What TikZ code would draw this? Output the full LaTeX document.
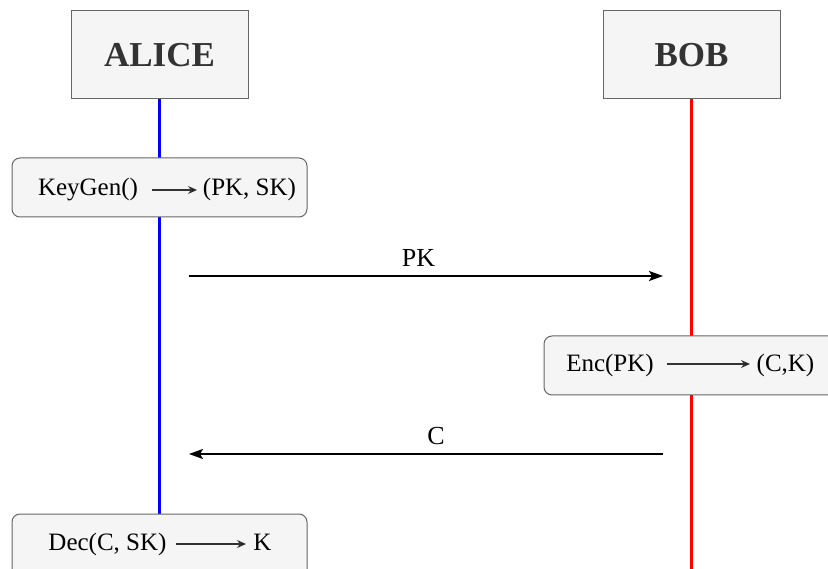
\documentclass[tikz,border=0pt]{standalone}
\usepackage{fontspec}
\setmainfont{Liberation Serif}
\usetikzlibrary{arrows.meta}
\definecolor{boxfill}{HTML}{F5F5F5}
\definecolor{boxline}{HTML}{666666}
\definecolor{headtext}{HTML}{333333}
\tikzset{
  actor/.style={draw=boxline, line width=1pt, fill=boxfill, minimum width=177pt,
    minimum height=88pt, inner sep=0pt, text=headtext,
    font=\fontsize{35}{40}\selectfont\bfseries},
  stepbox/.style={draw=boxline, line width=1pt, fill=boxfill, rounded corners=8pt},
  boxtext/.style={anchor=base, inner sep=0pt, font=\fontsize{25}{30}\selectfont},
  msglabel/.style={anchor=base, inner sep=0pt, font=\fontsize{26}{30}\selectfont},
  inarrow/.style={draw=black!80, line width=1.2pt, -{Stealth[length=9pt,width=8pt,fill=black]}},
  message/.style={line width=2pt, -{Stealth[length=14pt,width=10pt,inset=3pt]}},
  lifeline/.style={line width=3pt}
}
\begin{document}
\begin{tikzpicture}[x=1pt,y=-1pt]
\useasboundingbox (0,0) rectangle (828,569);

% participants
\node[actor] (alice) at (159.5,55) {ALICE};
\node[actor] (bob) at (691.5,55) {BOB};

% lifelines
\coordinate (aliceend) at (159.5,514);
\coordinate (bobend) at (691.5,575);
\draw[lifeline, blue] (alice.south) -- (aliceend);
\draw[lifeline, red] (bob.south) -- (bobend);

% Alice: key generation
\node[stepbox, minimum width=295pt, minimum height=59pt] (kgbox) at (159.5,187.5) {};
\node[boxtext] (kg) at (88,196) {KeyGen()};
\node[boxtext] (pksk) at (249.5,196) {(PK, SK)};
\coordinate (kga) at (152,190);
\coordinate (kgb) at (197,190);
\draw[inarrow] (kga) -- (kgb);

% message PK
\coordinate (pkfrom) at (189,276);
\coordinate (pkto) at (663,276);
\draw[message] (pkfrom) -- (pkto);
\node[msglabel] (pklabel) at (418.5,267) {PK};

% Bob: encapsulation
\node[stepbox, minimum width=300pt, minimum height=59pt] (encbox) at (694,365.5) {};
\node[boxtext] (enc) at (610,372) {Enc(PK)};
\node[boxtext] (ck) at (785.5,372) {(C,K)};
\coordinate (enca) at (667,364);
\coordinate (encb) at (750,364);
\draw[inarrow] (enca) -- (encb);

% message C
\coordinate (cfrom) at (663,454);
\coordinate (cto) at (189,454);
\draw[message] (cfrom) -- (cto);
\node[msglabel] (clabel) at (436,445) {C};

% Alice: decapsulation
\node[stepbox, minimum width=295pt, minimum height=70pt] (decbox) at (159.5,549) {};
\node[boxtext] (dec) at (107.5,550) {Dec(C, SK)};
\node[boxtext] (kout) at (262.5,550) {K};
\coordinate (deca) at (176,544);
\coordinate (decb) at (246,544);
\draw[inarrow] (deca) -- (decb);
\end{tikzpicture}
\end{document}
